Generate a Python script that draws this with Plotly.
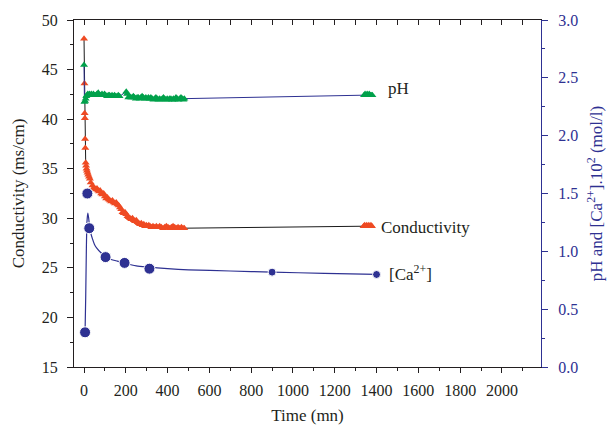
import plotly.graph_objects as go

# ---------------- data ----------------
cond_t = [0, 2, 3, 4, 5, 6, 8, 10, 12, 14, 17, 20, 24, 28, 32,
          40, 47, 52, 57, 62, 67, 72, 77, 82, 88, 94, 100, 106, 112, 118, 124, 130,
          136, 142, 148, 154, 160, 166, 172, 178, 184, 190, 196, 202, 208, 214, 220,
          226, 232, 238, 244, 250, 256, 262, 268, 274, 280, 286, 292, 298, 304, 310,
          316, 322, 330, 338, 346, 354, 362, 370, 378, 386, 394, 402, 410, 418, 426,
          434, 442, 450, 458, 466, 474, 480,
          1338, 1343, 1348, 1353, 1358, 1363, 1368, 1373, 1378]
cond_v = [48.1, 43.6, 40.6, 40.1, 38.0, 37.1, 35.6, 35.3, 35.0, 34.8, 34.6, 34.4, 34.2, 34.0, 33.6,
          33.3, 33.1, 33.0, 32.9, 33.0, 32.8, 32.7, 32.8, 32.5, 32.4, 32.5, 32.2, 32.0, 32.1, 31.9, 31.8, 31.7,
          31.8, 31.6, 31.5, 31.6, 31.4, 31.3, 31.1, 30.9, 30.6, 30.5, 30.6, 30.4, 30.2, 30.1, 30.0,
          29.9, 30.0, 29.8, 29.7, 29.8, 29.6, 29.5, 29.4, 29.5, 29.3, 29.4, 29.2, 29.3, 29.2, 29.3,
          29.2, 29.1, 29.2, 29.1, 29.2, 29.1, 29.2, 29.1, 29.0, 29.1, 29.2, 29.1, 29.0, 29.1, 29.2,
          29.1, 29.0, 29.1, 29.0, 29.1, 29.0, 29.0,
          29.2, 29.3, 29.2, 29.3, 29.2, 29.3, 29.2, 29.3, 29.2]

ph_t = [0, 2, 5, 8, 11, 14, 18, 22, 26, 30, 35, 40, 45, 50, 56, 62, 68, 74, 80, 86, 92, 98,
        104, 110, 116, 122, 128, 134, 140, 146, 152, 158, 164, 170,
        202, 206, 212, 218, 224, 230, 236, 242, 248, 254, 260, 266, 272, 278, 284, 290,
        296, 302, 308, 314, 320, 326, 332, 338, 344, 350, 356, 362, 368, 374, 380, 386,
        392, 398, 404, 410, 416, 422, 428, 434, 440, 446, 452, 458, 464, 470, 476, 480,
        1340, 1345, 1350, 1355, 1360, 1365, 1370, 1375, 1380]
ph_v = [2.61, 2.29, 2.30, 2.32, 2.34, 2.35, 2.36, 2.35, 2.36, 2.35, 2.36, 2.35, 2.36, 2.35, 2.35, 2.36, 2.37, 2.35, 2.35, 2.36, 2.35, 2.36,
        2.35, 2.34, 2.35, 2.35, 2.34, 2.35, 2.34, 2.35, 2.34, 2.34, 2.35, 2.34,
        2.38, 2.36, 2.33, 2.34, 2.33, 2.33, 2.34, 2.33, 2.32, 2.33, 2.33, 2.32, 2.33, 2.34, 2.33, 2.32,
        2.33, 2.32, 2.33, 2.32, 2.33, 2.32, 2.31, 2.32, 2.33, 2.32, 2.31, 2.32, 2.31, 2.32, 2.33, 2.32,
        2.31, 2.32, 2.31, 2.32, 2.32, 2.31, 2.32, 2.31, 2.33, 2.32, 2.31, 2.32, 2.33, 2.32, 2.31, 2.32,
        2.35, 2.36, 2.35, 2.36, 2.35, 2.36, 2.35, 2.35, 2.35]

ca_t = [5, 16, 25, 103, 194, 313, 900, 1400]
ca_v = [0.30, 1.50, 1.20, 0.95, 0.90, 0.85, 0.82, 0.80]
ca_size = [11, 11, 11, 11, 11, 11, 8, 8]

ca_fit_t = [5, 8, 11, 14, 18, 22, 26, 32, 40, 50, 60, 80, 100, 130, 160, 200, 250, 300, 400, 500, 700, 900, 1150, 1400]
ca_fit_v = [0.30, 0.60, 1.00, 1.25, 1.33, 1.29, 1.22, 1.16, 1.11, 1.06, 1.03, 0.99, 0.96, 0.93, 0.915, 0.895, 0.875, 0.865, 0.85, 0.84, 0.83, 0.82, 0.81, 0.80]

x_tickvals = [0, 200, 400, 600, 800, 1000, 1200, 1400, 1600, 1800, 2000]
top_tickvals = [0, 100, 200, 300, 400, 500, 600, 700, 800, 900, 1000, 1100, 1200, 1300,
                1400, 1500, 1600, 1700, 1800, 1900, 2000, 2100]
left_tickvals = [15, 20, 25, 30, 35, 40, 45, 50]
right_tickvals = [0.0, 0.5, 1.0, 1.5, 2.0, 2.5, 3.0]
right_ticktext = ["0.0", "0.5", "1.0", "1.5", "2.0", "2.5", "3.0"]

RED = "#ef4a23"
GREEN = "#00a14b"
BLUE = "#2e3192"
INK = "#231f20"
FONT = "Liberation Serif, DejaVu Serif, serif"


def f(size, color):
    return dict(family=FONT, size=size, color=color)


fig = go.Figure()

fig.add_trace(go.Scatter(x=cond_t, y=cond_v, mode="lines+markers",
                         line=dict(color="#1a1a1a", width=1),
                         marker=dict(symbol="triangle-up", size=7, color=RED, opacity=1),
                         xaxis="x", yaxis="y", showlegend=False))

fig.add_trace(go.Scatter(x=ph_t, y=ph_v, mode="lines+markers",
                         line=dict(color=BLUE, width=1),
                         marker=dict(symbol="triangle-up", size=7, color=GREEN, opacity=1),
                         xaxis="x", yaxis="y2", showlegend=False))

fig.add_trace(go.Scatter(x=ca_fit_t, y=ca_fit_v, mode="lines",
                         line=dict(color=BLUE, width=1.2, shape="spline", smoothing=0.6),
                         xaxis="x", yaxis="y2", showlegend=False))

fig.add_trace(go.Scatter(x=ca_t, y=ca_v, mode="markers",
                         marker=dict(symbol="circle", size=ca_size, color=BLUE, opacity=1),
                         xaxis="x", yaxis="y2", showlegend=False))

# invisible trace to draw the top axis
fig.add_trace(go.Scatter(x=[0], y=[20], mode="markers", marker=dict(opacity=0),
                         xaxis="x2", yaxis="y", showlegend=False, hoverinfo="skip"))

xr = [-48, 2187]

fig.update_layout(
    width=614, height=434,
    margin=dict(l=74, r=69, t=14, b=67),
    paper_bgcolor="white", plot_bgcolor="white",
    font=f(16, INK),
    xaxis=dict(range=xr, tickvals=x_tickvals, ticks="outside", ticklen=5, tickwidth=1,
               tickcolor=INK, showline=True, linecolor=INK, linewidth=1.2,
               showgrid=False, zeroline=False, ticklabelstandoff=4,
               minor=dict(dtick=100, tick0=0, ticks="outside", ticklen=3, tickcolor=INK),
               title=dict(text="Time (mn)", font=f(17, INK), standoff=10),
               tickfont=f(16, INK)),
    xaxis2=dict(range=xr, overlaying="x", side="top", anchor="y", ticks="inside",
                tickvals=top_tickvals,
                ticklen=5, tickcolor=INK, showticklabels=False, showline=True,
                linecolor=INK, linewidth=1.2, showgrid=False, zeroline=False),
    yaxis=dict(range=[15, 50], tickvals=left_tickvals, ticks="outside", ticklen=6,
               tickcolor=INK, showline=True, linecolor=INK, linewidth=1.2,
               showgrid=False, zeroline=False, ticklabelstandoff=6,
               minor=dict(dtick=2.5, tick0=15, ticks="outside", ticklen=3, tickcolor=INK),
               title=dict(text="Conductivity (ms/cm)", font=f(17, INK), standoff=12),
               tickfont=f(16, INK)),
    yaxis2=dict(range=[0, 3], overlaying="y", side="right", anchor="x",
                tickvals=right_tickvals, ticktext=right_ticktext,
                ticks="outside", ticklen=6, tickcolor=BLUE, showline=True, linecolor=BLUE,
                linewidth=1.2, showgrid=False, zeroline=False, ticklabelstandoff=7,
                minor=dict(dtick=0.25, tick0=0, ticks="outside", ticklen=3, tickcolor=BLUE),
                title=dict(text="pH and [Ca<sup>2+</sup>].10<sup>2</sup> (mol/l)",
                           font=f(17, BLUE), standoff=12),
                tickfont=f(16, BLUE)),
)

fig.add_annotation(x=1445, y=43.1, xref="x", yref="y", text="pH", showarrow=False,
                   xanchor="left", yanchor="middle", font=f(17, INK))
fig.add_annotation(x=1412, y=29.1, xref="x", yref="y", text="Conductivity", showarrow=False,
                   xanchor="left", yanchor="middle", font=f(17, INK))
fig.add_annotation(x=1452, y=24.5, xref="x", yref="y", text="[Ca<sup>2+</sup>]", showarrow=False,
                   xanchor="left", yanchor="middle", font=f(17, INK))

fig.write_html("out.html")
